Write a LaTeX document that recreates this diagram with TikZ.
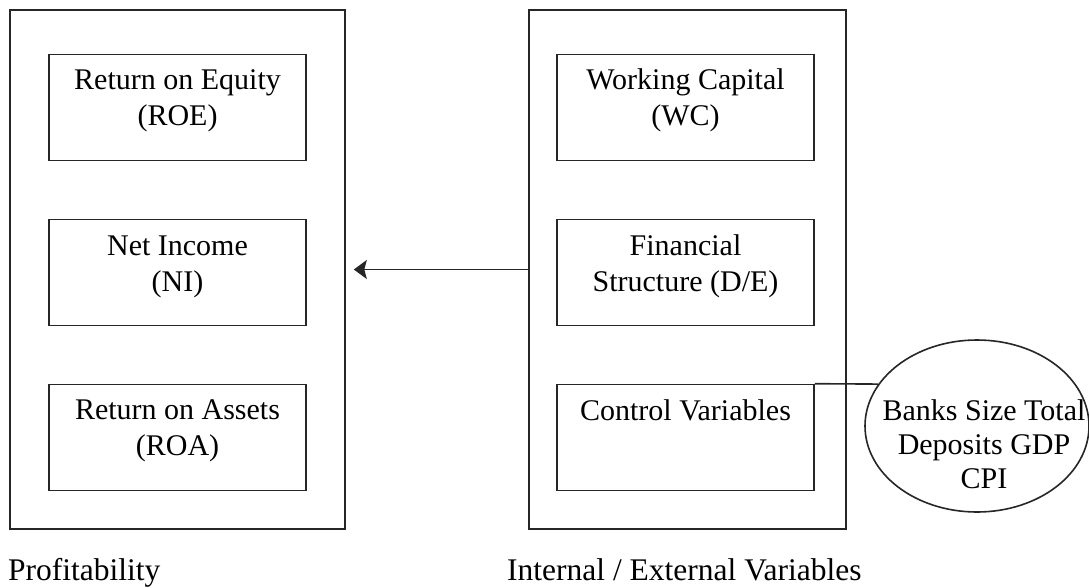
\documentclass[tikz,border=0pt]{standalone}
\usepackage{fontspec}
\setmainfont{Liberation Serif}
\usetikzlibrary{shapes.geometric,arrows.meta}
\begin{document}
\begin{tikzpicture}[x=1pt,y=-1pt,
  frame/.style={draw=black!85, line width=1.6pt, inner sep=0pt},
  innerbox/.style={frame, minimum width=257pt, minimum height=106pt},
  txt/.style={inner sep=0pt, anchor=base, font=\fontsize{30}{36}\selectfont},
  lbl/.style={inner sep=0pt, anchor=base west, font=\fontsize{31.5}{36}\selectfont},
  conn/.style={draw=black!85, line width=1.6pt},
  arr/.style={conn, -{Stealth[length=13pt,width=19pt,inset=2.5pt]}}]
\useasboundingbox[fill=white] (0,0) rectangle (1089,587);

% outer frames
\node[frame, minimum width=335pt, minimum height=519pt] (outL) at (177.5,269.5) {};
\node[frame, minimum width=317pt, minimum height=519pt] (outR) at (687.5,269.5) {};

% left inner boxes
\node[innerbox] (roe) at (177.5,107.5) {};
\node[innerbox] (ni)  at (177.5,272.5) {};
\node[innerbox] (roa) at (177.5,437.5) {};
% right inner boxes
\node[innerbox] (wc)   at (685.5,107.5) {};
\node[innerbox] (de)   at (685.5,272.5) {};
\node[innerbox] (ctrl) at (685.5,437.5) {};

% texts
\node[txt] (roeT) at (177.5,89) {\begin{tabular}[t]{@{}c@{}}Return on Equity\\(ROE)\end{tabular}};
\node[txt] (niT)  at (177.5,255) {\begin{tabular}[t]{@{}c@{}}Net Income\\(NI)\end{tabular}};
\node[txt] (roaT) at (177.5,419) {\begin{tabular}[t]{@{}c@{}}Return on Assets\\(ROA)\end{tabular}};
\node[txt] (wcT)  at (685.5,89) {\begin{tabular}[t]{@{}c@{}}Working Capital\\(WC)\end{tabular}};
\node[txt] (deT)  at (685.5,255) {\begin{tabular}[t]{@{}c@{}}Financial\\Structure (D/E)\end{tabular}};
\node[txt] (ctrlT) at (685.5,420) {Control Variables};

% ellipse
\node[frame, ellipse, minimum width=224pt, minimum height=172pt] (ell) at (977,426) {};
\node[txt, font=\fontsize{30}{34}\selectfont] (ellT) at (984,420)
  {\begin{tabular}[t]{@{}c@{}}Banks Size Total\\Deposits GDP\\CPI\end{tabular}};

% connectors
\draw[arr] (outR.west) -- ([xshift=8pt]outL.east);
\draw[conn] (ctrl.north east) -- (ell.157.3);

% bottom labels
\node[lbl] (profL) at (8,580) {Profitability};
\node[lbl] (varL) at (507,580) {Internal / External Variables};
\end{tikzpicture}
\end{document}
